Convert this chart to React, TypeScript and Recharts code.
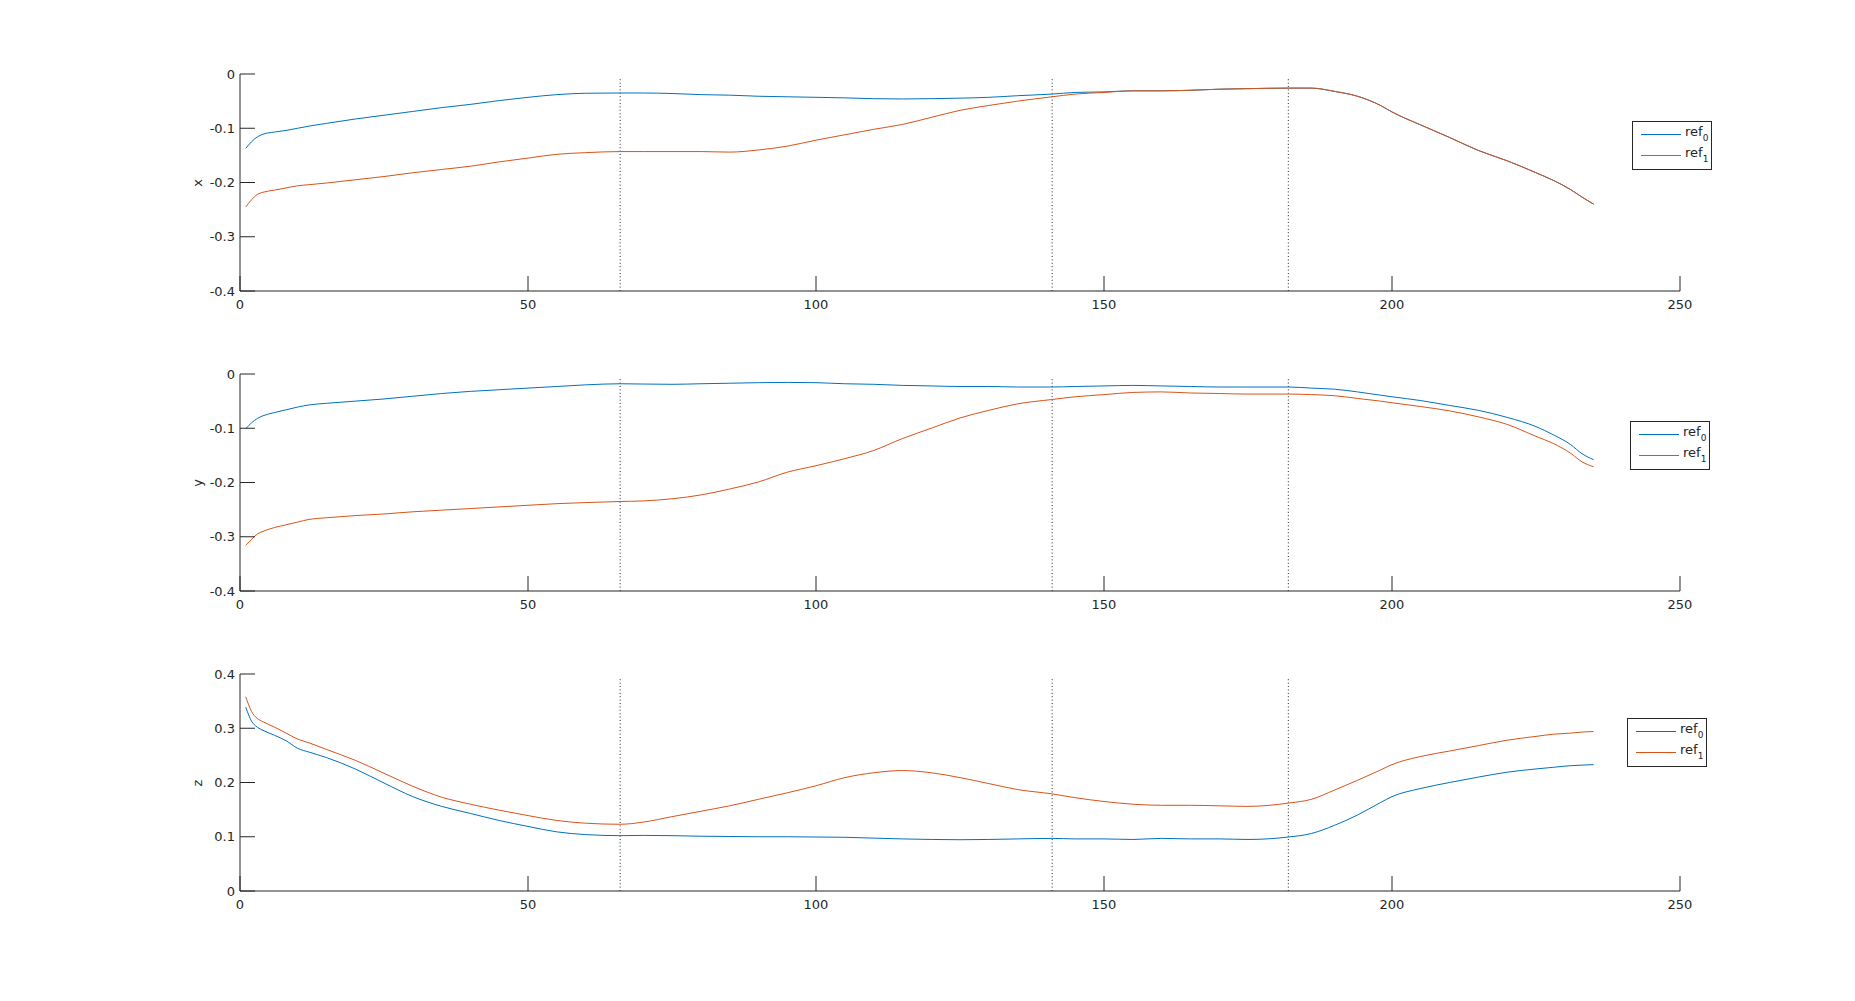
import { LineChart, Line, XAxis, YAxis, ReferenceLine } from "recharts";

// frame index (x axis) sampled along the trajectories
const frames = [
  1, 2, 3, 4, 6, 8, 10, 12, 15, 20, 25, 30, 35, 40, 45, 50, 55, 60, 66, 70, 75, 80, 85, 90, 95, 100, 105, 110,
  115, 120, 125, 130, 135, 141, 145, 150, 155, 160, 165, 170, 175, 182, 186, 190, 194, 198, 200, 205, 210, 215,
  220, 225, 228, 231, 233, 235,
];

const xRef0 = [
  -0.137, -0.125, -0.116, -0.111, -0.107, -0.104, -0.1, -0.096, -0.091, -0.083, -0.076, -0.069, -0.062, -0.056,
  -0.049, -0.043, -0.038, -0.0355, -0.035, -0.035, -0.036, -0.038, -0.039, -0.041, -0.042, -0.043, -0.044, -0.0455,
  -0.046, -0.0455, -0.0445, -0.043, -0.04, -0.037, -0.034, -0.033, -0.031, -0.031, -0.03, -0.028, -0.027, -0.026,
  -0.026, -0.032, -0.041, -0.058, -0.07, -0.094, -0.117, -0.141, -0.16, -0.182, -0.196, -0.213, -0.227, -0.24,
];
const xRef1 = [
  -0.245, -0.232, -0.222, -0.218, -0.214, -0.21, -0.206, -0.204, -0.201, -0.195, -0.189, -0.182, -0.176, -0.17,
  -0.162, -0.155, -0.148, -0.145, -0.143, -0.143, -0.143, -0.143, -0.144, -0.14, -0.133, -0.122, -0.112, -0.102,
  -0.093, -0.08, -0.067, -0.058, -0.05, -0.042, -0.037, -0.034, -0.031, -0.031, -0.03, -0.028, -0.027, -0.026,
  -0.026, -0.032, -0.041, -0.058, -0.07, -0.094, -0.117, -0.141, -0.16, -0.182, -0.196, -0.213, -0.227, -0.24,
];

const yRef0 = [
  -0.101, -0.09, -0.082, -0.077, -0.071, -0.066, -0.061, -0.057, -0.054, -0.05, -0.046, -0.041, -0.036, -0.032,
  -0.029, -0.026, -0.023, -0.02, -0.018, -0.0185, -0.019, -0.018, -0.017, -0.016, -0.0155, -0.016, -0.018, -0.019,
  -0.021, -0.022, -0.023, -0.023, -0.024, -0.024, -0.023, -0.022, -0.021, -0.022, -0.023, -0.024, -0.024, -0.024,
  -0.026, -0.028, -0.033, -0.039, -0.042, -0.049, -0.058, -0.067, -0.08, -0.097, -0.112, -0.13, -0.147, -0.158,
];
const yRef1 = [
  -0.316, -0.305, -0.295, -0.29, -0.283, -0.278, -0.273, -0.268, -0.265, -0.261, -0.258, -0.254, -0.251, -0.248,
  -0.245, -0.242, -0.239, -0.237, -0.235, -0.234, -0.23, -0.223, -0.212, -0.199, -0.181, -0.169, -0.156, -0.141,
  -0.119, -0.1, -0.081, -0.067, -0.055, -0.047, -0.042, -0.038, -0.034, -0.033, -0.035, -0.036, -0.037, -0.037,
  -0.038, -0.04, -0.045, -0.05, -0.053, -0.06, -0.068, -0.079, -0.093, -0.115, -0.128, -0.146, -0.162, -0.171,
];

const zRef0 = [
  0.339, 0.313, 0.302, 0.296, 0.287, 0.277, 0.263, 0.256, 0.246, 0.225, 0.199, 0.174, 0.156, 0.143, 0.13, 0.119,
  0.109, 0.104, 0.102, 0.1025, 0.102, 0.101, 0.1005, 0.1, 0.1, 0.0995, 0.099, 0.0975, 0.096, 0.095, 0.0945, 0.095,
  0.096, 0.097, 0.096, 0.096, 0.095, 0.097, 0.096, 0.096, 0.095, 0.0995, 0.106, 0.121, 0.14, 0.163, 0.174, 0.189,
  0.2, 0.21, 0.219, 0.225, 0.228, 0.231, 0.232, 0.233,
];
const zRef1 = [
  0.358, 0.331, 0.318, 0.312, 0.302, 0.291, 0.28, 0.273, 0.261, 0.241, 0.217, 0.193, 0.173, 0.16, 0.149, 0.139,
  0.13, 0.125, 0.123, 0.127, 0.137, 0.147, 0.157, 0.169, 0.181, 0.194, 0.209, 0.218, 0.222, 0.218, 0.209, 0.198,
  0.187, 0.179, 0.172, 0.165, 0.16, 0.158, 0.158, 0.157, 0.156, 0.162, 0.169, 0.186, 0.204, 0.223, 0.233, 0.248,
  0.258, 0.268, 0.278, 0.285, 0.289, 0.291, 0.293, 0.294,
];

const frameTicks = [0, 50, 100, 150, 200, 250];
const negTicks = [-0.4, -0.3, -0.2, -0.1, 0];
const posTicks = [0, 0.1, 0.2, 0.3, 0.4];
const phaseMarks = [66, 141, 182];

const BLUE = "#0072BD";
const ORANGE = "#D95319";
const INK = "#262626";
const FONT = "'DejaVu Sans', sans-serif";

const panels = [
  { label: "x", ref0: xRef0, ref1: xRef1, ticks: negTicks, legend: { left: 1632, top: 121 } },
  { label: "y", ref0: yRef0, ref1: yRef1, ticks: negTicks, legend: { left: 1630, top: 421 } },
  { label: "z", ref0: zRef0, ref1: zRef1, ticks: posTicks, legend: { left: 1627, top: 718 } },
];

function YTick(props: any) {
  const { x, y, payload } = props;
  return (
    <g>
      <line x1={x} y1={y} x2={x + 15} y2={y} stroke={INK} />
      <text x={x - 5} y={y + 4.7} textAnchor="end" fontSize={13} fontFamily={FONT} fill={INK}>
        {String(payload.value)}
      </text>
    </g>
  );
}

function XTick(props: any) {
  const { x, y, payload } = props;
  return (
    <g>
      <line x1={x} y1={y} x2={x} y2={y - 15} stroke={INK} />
      <text x={x} y={y + 18} textAnchor="middle" fontSize={13} fontFamily={FONT} fill={INK}>
        {String(payload.value)}
      </text>
    </g>
  );
}

function LegendBox({ left, top }: { left: number; top: number }) {
  const rows = [
    { color: BLUE, sub: "0" },
    { color: ORANGE, sub: "1" },
  ];
  return (
    <div
      style={{
        position: "absolute",
        left,
        top,
        width: 80,
        height: 49,
        boxSizing: "border-box",
        border: `1px solid ${INK}`,
        background: "#fff",
        fontFamily: FONT,
        fontSize: 13,
        color: INK,
      }}
    >
      {rows.map((r, i) => (
        <div key={i}>
          <div
            style={{ position: "absolute", left: 8, top: 12 + i * 21, width: 40, height: 1, background: r.color }}
          />
          <div style={{ position: "absolute", left: 52, top: 2 + i * 21, lineHeight: "16px", whiteSpace: "nowrap" }}>
            ref
            <span style={{ fontSize: 9, position: "relative", top: 5 }}>{r.sub}</span>
          </div>
        </div>
      ))}
    </div>
  );
}

export default function App() {
  return (
    <div style={{ position: "absolute", left: 0, top: 0, width: 1855, height: 1001, background: "#fff" }}>
      {panels.map((p, i) => {
        const data = frames.map((t, k) => ({ t, ref0: p.ref0[k], ref1: p.ref1[k] }));
        const lo = p.ticks[0];
        const hi = p.ticks[p.ticks.length - 1];
        return (
          <div key={p.label} style={{ position: "absolute", left: 0, top: i * 300 }}>
            <LineChart width={1855} height={330} data={data} margin={{ top: 74, right: 175, bottom: 0, left: 0 }}>
              <XAxis
                dataKey="t"
                type="number"
                domain={[0, 250]}
                ticks={frameTicks}
                interval={0}
                height={39}
                tickSize={0}
                tickMargin={0}
                tickLine={false}
                axisLine={{ stroke: INK }}
                tick={<XTick />}
              />
              <YAxis
                type="number"
                domain={[lo, hi]}
                ticks={p.ticks}
                interval={0}
                width={240}
                tickSize={0}
                tickMargin={0}
                tickLine={false}
                axisLine={{ stroke: INK }}
                tick={<YTick />}
              />
              {phaseMarks.map((m) => (
                <ReferenceLine
                  key={m}
                  segment={[
                    { x: m, y: lo },
                    { x: m, y: hi - 0.0075 },
                  ]}
                  stroke={INK}
                  strokeDasharray="1 2.4"
                />
              ))}
              <Line
                type="monotone"
                dataKey="ref0"
                stroke={BLUE}
                strokeWidth={1}
                dot={false}
                isAnimationActive={false}
              />
              <Line
                type="monotone"
                dataKey="ref1"
                stroke={ORANGE}
                strokeWidth={1}
                dot={false}
                isAnimationActive={false}
              />
            </LineChart>
            <div
              style={{
                position: "absolute",
                left: 197,
                top: 183,
                transform: "translate(-50%, -50%) rotate(-90deg)",
                fontFamily: FONT,
                fontSize: 13,
                color: INK,
              }}
            >
              {p.label}
            </div>
          </div>
        );
      })}
      {panels.map((p) => (
        <LegendBox key={p.label} left={p.legend.left} top={p.legend.top} />
      ))}
    </div>
  );
}
